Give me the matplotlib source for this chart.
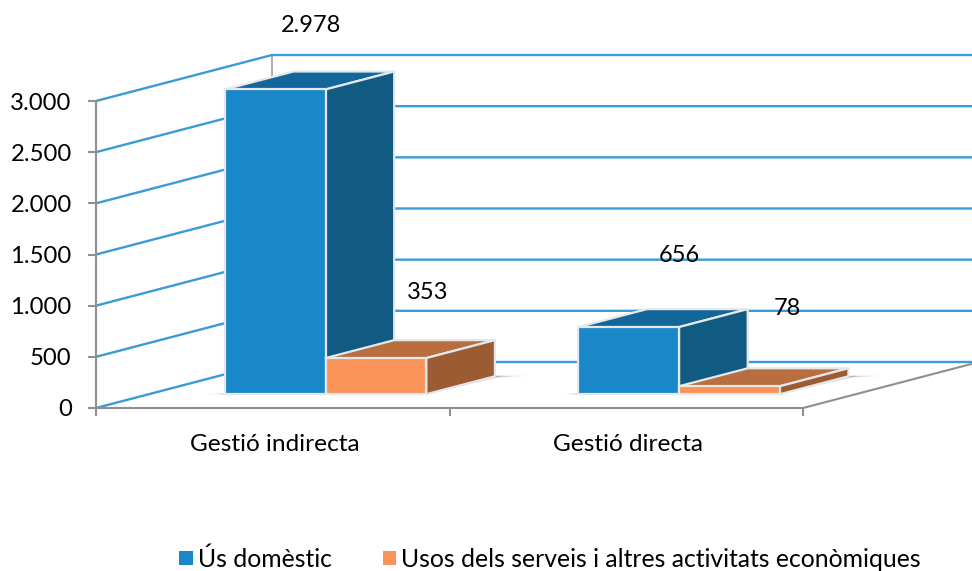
import matplotlib
matplotlib.use("Agg")
import matplotlib.pyplot as plt
from matplotlib.patches import Polygon, Patch
from matplotlib.ticker import FuncFormatter

categories = ["Gestió indirecta", "Gestió directa"]
series_names = ["Ús domèstic", "Usos dels serveis i altres activitats econòmiques"]
us_domestic = [2978, 656]
usos_serveis = [353, 78]
y_ticks = [0, 500, 1000, 1500, 2000, 2500, 3000]

plt.rcParams["font.family"] = ["Lato", "DejaVu Sans"]
W, H = 972, 571
fig = plt.figure(figsize=(W / 100, H / 100), dpi=100, facecolor="white")
ax = fig.add_axes([96 / W, (H - 408) / H, 707 / W, 307 / H])
ax.set_xlim(0, 2)
ax.set_ylim(0, 3000)
ax.patch.set_visible(False)

# oblique projection of the 3D box
DX, DY = 176 / 353.5, 46 * 3000 / 307


def proj(x, v, d):
    return x + d * DX, v + d * DY


GRID = "#3a9bd5"
AXISC = "#8f8f8f"
for v in y_ticks:
    a = proj(0, v, 0)
    b = proj(0, v, 1)
    c = proj(2, v, 1)
    ax.plot([a[0], b[0], c[0]], [a[1], b[1], c[1]], color=GRID, lw=1.7,
            clip_on=False, zorder=1, solid_joinstyle="miter")
b0, b1 = proj(0, 0, 1), proj(0, 3000, 1)
ax.plot([b0[0], b1[0]], [b0[1], b1[1]], color="#b0b0b0", lw=1.5, clip_on=False, zorder=0.8)
f0, f1 = proj(2, 0, 0), proj(2, 0, 1)
ax.plot([f0[0], f1[0]], [f0[1], f1[1]], color=AXISC, lw=1.5, clip_on=False, zorder=2)

GAP = 0.215
BW = 0.285
D0, D1 = 0.30, 0.69
front_cols = ["#1a87c9", "#fa9358"]
side_cols = ["#115a82", "#9b5c33"]
top_cols = ["#126699", "#b86e3f"]
EDGE = "#e4e8ea"


def face(points, color, z, edge=EDGE, lw=1.6, alpha=None):
    ax.add_patch(Polygon([proj(*p) for p in points], closed=True, facecolor=color,
                         edgecolor=edge, lw=lw, clip_on=False, zorder=z, alpha=alpha,
                         joinstyle="round"))


# soft floor shadows
for g in range(len(categories)):
    x0 = g + GAP
    x2 = x0 + 2 * BW
    for grow, al in [(0.05, 0.14), (0.03, 0.22), (0.012, 0.30)]:
        face([(x0 - grow, 0, D0), (x2, 0, D0), (x2 + grow * 0.5, 0, D1 - 0.03),
              (x2 + grow * 1.8, 0, D1 + 0.01), (x2, 0, D1 + 0.01), (x0, 0, D0 + 0.03)],
             "#666666", 2, edge="none", lw=0, alpha=al)

for g in range(len(categories)):
    for s, values in enumerate([us_domestic, usos_serveis]):
        v = values[g]
        l = g + GAP + s * BW
        r = l + BW
        z = 3 + g * 3 + s * 0.5
        face([(l, v, D0), (r, v, D0), (r, v, D1), (l, v, D1)], top_cols[s], z)
        face([(r, 0, D0), (r, 0, D1), (r, v, D1), (r, v, D0)], side_cols[s], z + 0.1)
        face([(l, 0, D0), (r, 0, D0), (r, v, D0), (l, v, D0)], front_cols[s], z + 0.2)

# data labels
label_shift = [[(36, 64), (52, 66)], [(51, 72), (58, 78)]]
for g in range(len(categories)):
    for s, values in enumerate([us_domestic, usos_serveis]):
        v = values[g]
        cx = g + GAP + (s + 0.5) * BW
        px, py = proj(cx, v, D0)
        dx, dy = label_shift[g][s]
        ax.annotate(f"{v:,}".replace(",", "."), (px, py), xytext=(dx * 0.72, dy * 0.72),
                    textcoords="offset points", ha="center", va="center",
                    fontsize=17, color="black", annotation_clip=False, zorder=20)

ax.set_yticks(y_ticks)
ax.yaxis.set_major_formatter(FuncFormatter(lambda v, _: f"{int(v):,}".replace(",", ".")))
ax.set_xticks([0, 1, 2])
ax.set_xticklabels([])
ax.set_xticks([0.505, 1.505], labels=categories, minor=True)
ax.tick_params(axis="both", which="major", color=AXISC, width=1.5, length=5.5,
               labelsize=17.2, pad=12)
ax.tick_params(axis="x", which="minor", length=0, labelsize=17.6, pad=19)
for name in ["top", "right"]:
    ax.spines[name].set_visible(False)
for name in ["left", "bottom"]:
    ax.spines[name].set_color(AXISC)
    ax.spines[name].set_linewidth(1.5)

handles = [Patch(facecolor=front_cols[0], label=series_names[0]),
           Patch(facecolor=front_cols[1], label=series_names[1])]
fig.legend(handles=handles, ncol=2, loc="center", bbox_to_anchor=(550 / W, 1 - 559 / H),
           frameon=False, fontsize=17.8, handlelength=0.55, handleheight=0.55,
           handletextpad=0.2, columnspacing=2.06, borderpad=0, borderaxespad=0)

fig.savefig("out.png", dpi=100, facecolor="white")
